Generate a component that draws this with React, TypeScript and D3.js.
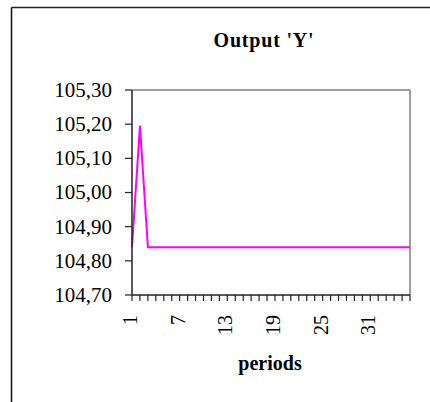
import React, { useEffect } from "react";
import * as d3 from "d3";

// periods 1..36
const periods = [
  1, 2, 3, 4, 5, 6, 7, 8, 9, 10, 11, 12, 13, 14, 15, 16, 17, 18,
  19, 20, 21, 22, 23, 24, 25, 26, 27, 28, 29, 30, 31, 32, 33, 34, 35, 36,
];
const outputY = [
  104.84, 105.195, 104.84, 104.84, 104.84, 104.84, 104.84, 104.84, 104.84,
  104.84, 104.84, 104.84, 104.84, 104.84, 104.84, 104.84, 104.84, 104.84,
  104.84, 104.84, 104.84, 104.84, 104.84, 104.84, 104.84, 104.84, 104.84,
  104.84, 104.84, 104.84, 104.84, 104.84, 104.84, 104.84, 104.84, 104.84,
];
const yTicks = [104.7, 104.8, 104.9, 105.0, 105.1, 105.2, 105.3];
const xLabels = [1, 7, 13, 19, 25, 31];

const FONT = "'Liberation Serif', 'Times New Roman', serif";

const App = () => {
  const width = 430;
  const height = 402;
  const plot = { left: 132, right: 410, top: 90, bottom: 295 };

  useEffect(() => {
    // no page margin / scrollbars
    document.body.style.margin = "0";
    document.body.style.overflow = "hidden";
    document.documentElement.style.overflow = "hidden";
  }, []);

  const x = d3.scalePoint<number>()
    .domain(periods)
    .range([plot.left, plot.right]);

  const y = d3.scaleLinear()
    .domain([104.7, 105.3])
    .range([plot.bottom, plot.top]);

  const line = d3.line<number>()
    .x((_, i) => x(periods[i]) as number)
    .y(d => y(d));

  const fmt = (v: number) => v.toFixed(2).replace(".", ",");

  return (
    <svg
      width={width}
      height={height}
      style={{ position: "fixed", left: 0, top: 0, background: "#fff", display: "block" }}
    >
      {/* outer chart frame (only left and top edges visible) */}
      <line x1={11.5} x2={width} y1={7.5} y2={7.5} stroke="#222" strokeWidth={1.5} />
      <line x1={11.5} x2={11.5} y1={7.5} y2={height} stroke="#111" strokeWidth={1.5} />

      <text
        x={264}
        y={47}
        textAnchor="middle"
        fontFamily={FONT}
        fontSize={20}
        fontWeight="bold"
        letterSpacing={0.8}
        fill="#000"
      >
        Output 'Y'
      </text>

      {/* plot area border: grey top/right */}
      <line x1={plot.left} x2={plot.right} y1={plot.top} y2={plot.top} stroke="#808080" strokeWidth={1.5} />
      <line x1={plot.right} x2={plot.right} y1={plot.top} y2={plot.bottom} stroke="#808080" strokeWidth={1.5} />

      {/* line */}
      <path d={line(outputY) ?? ""} fill="none" stroke="#ff00ff" strokeWidth={2} />

      {/* y axis */}
      <line x1={plot.left} x2={plot.left} y1={plot.top} y2={plot.bottom} stroke="#222" strokeWidth={1.5} />
      {yTicks.map(t => (
        <g key={t}>
          <line x1={plot.left - 7} x2={plot.left} y1={y(t)} y2={y(t)} stroke="#222" strokeWidth={1.2} />
          <text
            x={112}
            y={y(t)}
            dy="0.33em"
            textAnchor="end"
            fontFamily={FONT}
            fontSize={21}
            fill="#000"
          >
            {fmt(t)}
          </text>
        </g>
      ))}

      {/* x axis */}
      <line x1={plot.left} x2={plot.right} y1={plot.bottom} y2={plot.bottom} stroke="#222" strokeWidth={1.5} />
      {periods.map(p => (
        <line
          key={p}
          x1={x(p)}
          x2={x(p)}
          y1={plot.bottom}
          y2={plot.bottom + 6}
          stroke="#222"
          strokeWidth={1.2}
        />
      ))}
      {xLabels.map(p => (
        <text
          key={p}
          transform={`translate(${(x(p) as number) + 5},${plot.bottom + 20}) rotate(-90)`}
          textAnchor="end"
          fontFamily={FONT}
          fontSize={20}
          fill="#000"
        >
          {p}
        </text>
      ))}

      <text
        x={270}
        y={370}
        textAnchor="middle"
        fontFamily={FONT}
        fontSize={20}
        fontWeight="bold"
        fill="#000"
      >
        periods
      </text>
    </svg>
  );
};

export default App;
